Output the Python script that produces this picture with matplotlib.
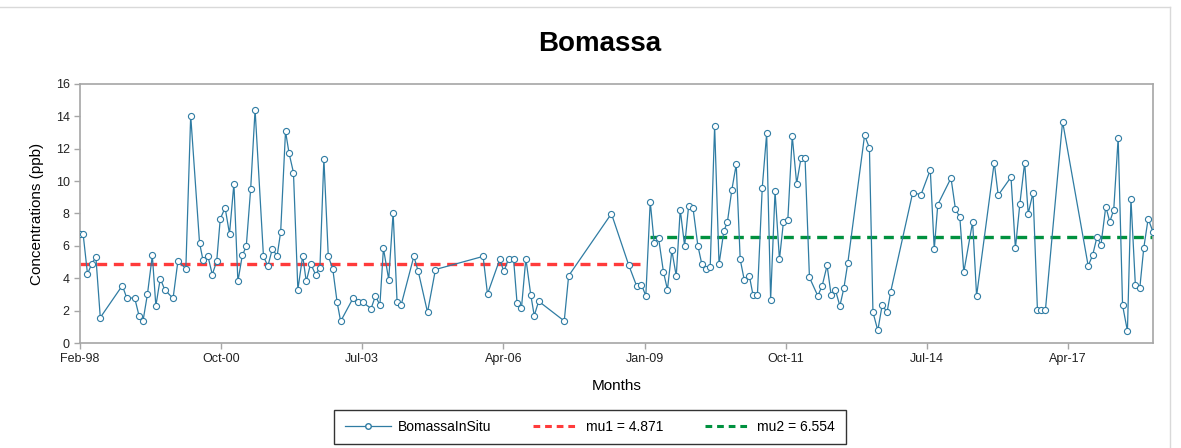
import matplotlib.pyplot as plt
from matplotlib.lines import Line2D

plt.rcParams["font.family"] = ["Liberation Sans", "DejaVu Sans"]

# months since Feb-98 and concentrations (ppb)
MONTHS_1 = [0.0, 0.7, 1.7, 2.7, 3.6, 4.6, 9.6, 10.6, 12.4, 13.4, 14.3, 15.3, 16.4,
            17.2, 18.2, 19.2, 21.1, 22.2, 24.0, 25.1, 27.1, 27.9, 29.0, 30.0, 31.0,
            31.8, 32.9, 33.9, 34.9, 35.8, 36.8, 37.7, 38.7, 39.7, 41.6, 42.6, 43.6,
            44.7, 45.5, 46.6, 47.4, 48.4, 49.4, 50.5, 51.3, 52.3, 53.4, 54.4, 55.3,
            56.3, 57.3, 58.3, 59.1, 62.0, 63.1, 64.1, 66.0, 67.0, 68.0, 68.8, 70.0,
            71.0, 71.9, 72.8, 75.7, 76.7, 78.8, 80.6, 91.4, 92.4, 95.2, 96.1, 97.2,
            98.3, 99.1, 100.1, 101.1, 102.2, 103.0, 104.0, 109.8, 110.8, 120.5,
            124.4, 126.2, 127.3, 128.3]
VALUES_1 = [6.75, 6.75, 4.27, 4.91, 5.31, 1.57, 3.55, 2.78, 2.78, 1.67, 1.38, 3.03,
            5.41, 2.29, 3.98, 3.30, 2.75, 5.06, 4.60, 14.05, 6.20, 5.10, 5.37, 4.23,
            5.06, 7.66, 8.36, 6.75, 9.85, 3.80, 5.41, 5.97, 9.52, 14.42, 5.35, 4.75,
            5.80, 5.39, 6.86, 13.08, 11.73, 10.53, 3.30, 5.39, 3.80, 4.91, 4.23, 4.64,
            11.38, 5.35, 4.60, 2.52, 1.34, 2.81, 2.52, 2.52, 2.13, 2.91, 2.33, 5.85,
            3.92, 8.05, 2.52, 2.33, 5.35, 4.42, 1.90, 4.54, 5.35, 3.03, 5.18, 4.42,
            5.22, 5.22, 2.47, 2.16, 5.22, 2.99, 1.69, 2.58, 1.36, 4.15, 7.99, 4.83,
            3.53, 3.61, 2.91]

MONTHS_2 = [129.3, 130.2, 131.2, 132.3, 133.2, 134.2, 135.2, 136.1, 137.1, 138.0,
            139.0, 140.1, 141.0, 142.0, 142.9, 143.9, 144.9, 146.0, 146.8, 147.8,
            148.8, 149.7, 150.6, 151.8, 152.6, 153.6, 154.7, 155.7, 156.6, 157.6,
            158.6, 159.5, 160.5, 161.5, 162.5, 163.5, 164.4, 165.4, 167.3, 168.3,
            169.4, 170.3, 171.3, 172.3, 173.2, 174.1, 177.9, 179.0, 179.8, 180.9,
            181.9, 183.0, 183.8, 188.8, 190.7, 192.8, 193.7, 194.5, 197.5, 198.5,
            199.5, 200.4, 202.4, 203.3, 207.3, 208.2, 211.1, 212.1, 213.1, 214.2,
            215.0, 216.1, 217.1, 218.0, 218.9, 222.8, 228.6, 229.6, 230.6, 231.5,
            232.6, 233.5, 234.4, 235.4, 236.4, 237.5, 238.3, 239.3, 240.3, 241.2,
            242.2, 243.3]
VALUES_2 = [8.74, 6.16, 6.47, 4.38, 3.30, 5.72, 4.13, 8.24, 5.99, 8.45, 8.33, 6.01,
            4.87, 4.60, 4.71, 13.41, 4.87, 6.92, 7.48, 9.46, 11.03, 5.16, 3.92, 4.11,
            2.97, 2.97, 9.60, 12.95, 2.68, 9.36, 5.16, 7.48, 7.62, 12.79, 9.85, 11.44,
            11.44, 4.05, 2.91, 3.55, 4.79, 2.99, 3.26, 2.29, 3.38, 4.95, 12.83, 12.05,
            1.90, 0.78, 2.35, 1.90, 3.14, 9.27, 9.17, 10.70, 5.78, 8.55, 10.19, 8.28,
            7.77, 4.38, 7.48, 2.91, 11.15, 9.13, 10.25, 5.85, 8.57, 11.15, 7.99, 9.29,
            2.02, 2.02, 2.02, 13.68, 4.77, 5.41, 6.55, 6.07, 8.43, 7.48, 8.24, 12.68,
            2.33, 0.74, 8.90, 3.59, 3.37, 5.86, 7.68, 6.86]

MU1 = 4.871
MU2 = 6.554

TICK_MONTHS = [0, 32, 64, 96, 128, 160, 192, 224]
TICK_LABELS = ["Feb-98", "Oct-00", "Jul-03", "Apr-06", "Jan-09", "Oct-11", "Jul-14", "Apr-17"]

LINE_COLOR = "#2f7ca3"
RED = "#ff3b3b"
GREEN = "#00913f"
GRID_GRAY = "#a6a6a6"

fig = plt.figure(figsize=(11.81, 4.48), dpi=100)
ax = fig.add_axes([80 / 1181, 1 - 343 / 448, (1153 - 80) / 1181, (343 - 84) / 448])

months = MONTHS_1 + MONTHS_2
values = VALUES_1 + VALUES_2
ax.plot(months, values, color=LINE_COLOR, lw=0.9, marker="o", ms=4.4,
        mfc="white", mec=LINE_COLOR, mew=0.8, zorder=3)
ax.plot([MONTHS_1[0], MONTHS_1[-1]], [MU1, MU1], color=RED, lw=2.4,
        ls=(0, (3, 2)), zorder=2)
ax.plot([MONTHS_2[0], MONTHS_2[-1]], [MU2, MU2], color=GREEN, lw=2.4,
        ls=(0, (3, 2)), zorder=2)

ax.set_xlim(0, MONTHS_2[-1])
ax.set_ylim(0, 16)
ax.set_yticks(range(0, 17, 2))
ax.set_xticks(TICK_MONTHS)
ax.set_xticklabels(TICK_LABELS)
ax.tick_params(labelsize=9, colors=GRID_GRAY, labelcolor="#222222", length=4, width=1)
for sp in ax.spines.values():
    sp.set_color(GRID_GRAY)
    sp.set_linewidth(1.2)

ax.set_xlabel("Months", fontsize=11, labelpad=10)
ax.set_ylabel("Concentrations (ppb)", fontsize=11, labelpad=8)
fig.text(600 / 1181, 1 - 44 / 448, "Bomassa", fontsize=20, fontweight="bold",
         ha="center", va="center")

handles = [
    Line2D([0, 1], [0, 0], color=LINE_COLOR, lw=0.9, marker="o", ms=4, mfc="white",
           mec=LINE_COLOR),
    Line2D([0, 1], [0, 0], color=RED, lw=2.2, ls=(0, (2.2, 1.6))),
    Line2D([0, 1], [0, 0], color=GREEN, lw=2.2, ls=(0, (2.2, 1.6))),
]
labels = ["BomassaInSitu", f"mu1 = {MU1}", f"mu2 = {MU2}"]
leg = fig.legend(handles, labels, loc="center", bbox_to_anchor=(590 / 1181, 1 - 427 / 448),
                 ncol=3, fontsize=10, frameon=True, fancybox=False, handlelength=3.3,
                 numpoints=1, columnspacing=3.0, borderpad=0.75, handletextpad=0.5)
leg.get_frame().set_edgecolor("black")
leg.get_frame().set_linewidth(1.0)

# faint chart-area border (top and right)
fig.add_artist(Line2D([0, 1170 / 1181], [1 - 7 / 448, 1 - 7 / 448], color="#d9d9d9", lw=1,
                      transform=fig.transFigure))
fig.add_artist(Line2D([1170 / 1181, 1170 / 1181], [0, 1 - 7 / 448], color="#d9d9d9", lw=1,
                      transform=fig.transFigure))

fig.savefig("out.png", dpi=100)
